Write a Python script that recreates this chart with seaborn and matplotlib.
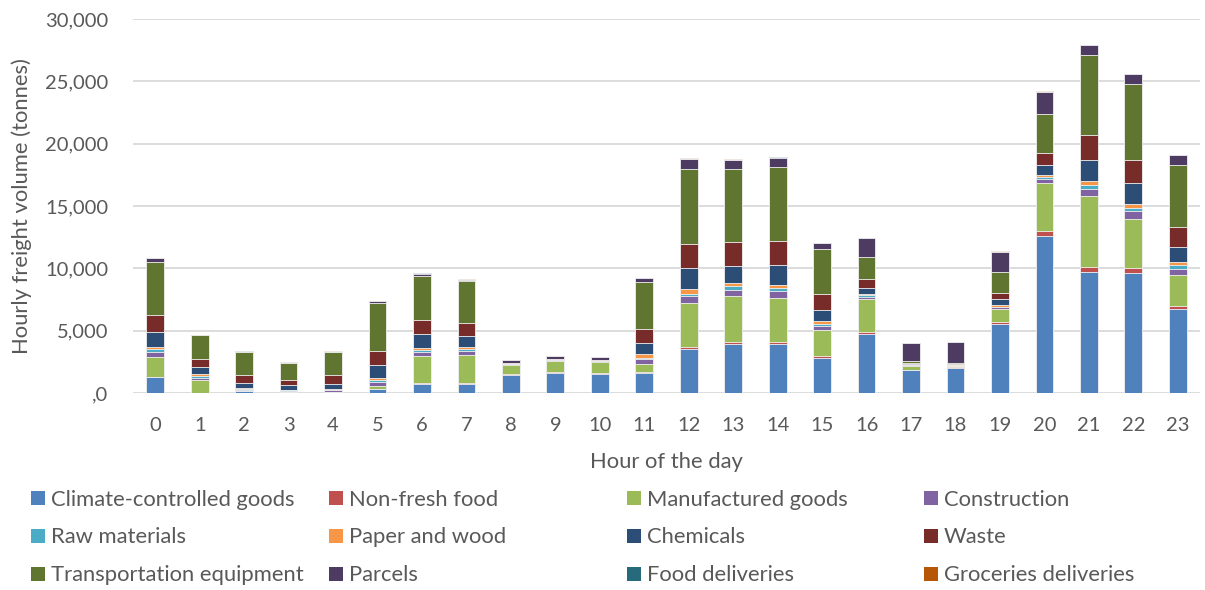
import numpy as np
import pandas as pd
import matplotlib
matplotlib.use("Agg")
import matplotlib.pyplot as plt
from matplotlib.patches import Patch
import seaborn as sns

hours = list(range(24))
categories = ["Climate-controlled goods", "Non-fresh food", "Manufactured goods", "Construction",
              "Raw materials", "Paper and wood", "Chemicals", "Waste",
              "Transportation equipment", "Parcels", "Food deliveries", "Groceries deliveries"]

climate      = [1290, 20, 150, 80, 80, 320, 750, 750, 1420, 1580, 1530, 1610, 3540, 3910, 3970, 2820, 4720, 1830, 1990, 5560, 12560, 9690, 9610, 6710]
non_fresh    = [30, 10, 10, 10, 10, 10, 30, 30, 80, 80, 60, 40, 130, 160, 160, 110, 140, 50, 80, 160, 430, 380, 430, 240]
manufactured = [1580, 1050, 30, 20, 30, 235, 2210, 2250, 780, 940, 930, 710, 3510, 3700, 3480, 2140, 2660, 320, 60, 990, 3840, 5770, 3920, 2500]
construction = [350, 130, 60, 60, 100, 350, 290, 320, 20, 20, 20, 350, 590, 530, 540, 270, 210, 40, 30, 160, 320, 530, 640, 530]
raw          = [270, 140, 50, 60, 40, 135, 140, 140, 10, 10, 10, 130, 190, 280, 270, 220, 110, 20, 20, 60, 160, 350, 240, 250]
paper        = [190, 150, 70, 50, 50, 190, 210, 210, 20, 20, 20, 300, 400, 240, 240, 180, 80, 20, 40, 100, 140, 270, 330, 240]
chemicals    = [1160, 570, 460, 370, 430, 990, 1100, 860, 30, 30, 30, 910, 1660, 1360, 1600, 920, 530, 60, 40, 490, 800, 1660, 1690, 1230]
waste        = [1370, 620, 600, 380, 680, 1160, 1130, 1040, 30, 30, 30, 1120, 1930, 1930, 1930, 1290, 700, 60, 40, 480, 1020, 2070, 1820, 1640]
transport    = [4300, 1940, 1850, 1360, 1850, 3820, 3550, 3350, 40, 40, 40, 3730, 6030, 5820, 5950, 3590, 1770, 130, 120, 1720, 3090, 6390, 6120, 4960]
parcels      = [270, 30, 40, 40, 40, 130, 170, 140, 200, 180, 180, 290, 810, 750, 750, 480, 1510, 1480, 1660, 1610, 1770, 780, 750, 760]
food         = [10] * 24
groceries    = [30, 10, 10, 10, 10, 20, 20, 20, 20, 20, 20, 30, 50, 40, 40, 30, 30, 20, 20, 30, 50, 40, 40, 40]

series = [climate, non_fresh, manufactured, construction, raw, paper, chemicals, waste,
          transport, parcels, food, groceries]

colors = ["#4F81BD", "#C0504D", "#9BBB59", "#8064A2", "#4BACC6", "#F79646",
          "#2C4D75", "#772C2A", "#5F7530", "#4D3B62", "#276A7C", "#B65708"]

ytick_vals = [0, 5000, 10000, 15000, 20000, 25000, 30000]
ytick_labels = [",0", "5,000", "10,000", "15,000", "20,000", "25,000", "30,000"]

sns.set_theme(style="white")
plt.rcParams["font.family"] = ["Lato", "DejaVu Sans"]
TXT = "#595959"
FS_TICK = 14.5
FS = 15.8

W, H = 1205, 590
fig = plt.figure(figsize=(W / 100, H / 100), dpi=100)
ax = fig.add_axes([133 / W, 1 - 393 / H, 1067 / W, 374 / H])

rows = []
for cat, vals in zip(categories, series):
    for h, v in zip(hours, vals):
        rows.append({"hour": h, "category": cat, "value": v})
df = pd.DataFrame(rows)
df["cum"] = df.groupby("hour")["value"].cumsum()

# draw cumulative bars from the top series down so stacks appear
for cat, col in reversed(list(zip(categories, colors))):
    sub = df[df["category"] == cat]
    sns.barplot(data=sub, x="hour", y="cum", color=col, width=0.4, ax=ax,
                edgecolor="#F2F2F2", linewidth=0.6, saturation=1, errorbar=None, zorder=3)

ax.set_xlim(-0.5, 23.5)
ax.set_ylim(0, 30000)
ax.set_yticks(ytick_vals)
ax.set_yticklabels(ytick_labels)
ax.yaxis.grid(True, color="#D9D9D9", linewidth=1.3, zorder=0)
ax.set_axisbelow(True)
for s in ax.spines.values():
    s.set_visible(False)
ax.tick_params(axis="both", length=0, labelsize=FS_TICK, colors=TXT)
ax.tick_params(axis="x", pad=17.5)
ax.tick_params(axis="y", pad=18)

ax.set_xlabel("Hour of the day", fontsize=FS, color=TXT)
ax.xaxis.set_label_coords(0.5, (393 - 462) / 374)
ax.xaxis.label.set_va("center")
ax.set_ylabel("Hourly freight volume (tonnes)", fontsize=FS, color=TXT)
ax.yaxis.set_label_coords((22 - 133) / 1067, 0.5)
ax.yaxis.label.set_va("center")

handles = [Patch(facecolor=c, edgecolor="none") for c in colors]
col_x = [31, 329, 627, 924]
for ci, x in enumerate(col_x):
    idx = [ci, ci + 4, ci + 8]
    fig.legend([handles[i] for i in idx], [categories[i] for i in idx],
               loc="upper left", bbox_to_anchor=(x / W, 1 - 489.5 / H),
               frameon=False, fontsize=FS, labelcolor=TXT, ncol=1,
               handlelength=0.64, handleheight=0.64, handletextpad=0.27,
               labelspacing=0.82, borderpad=0, borderaxespad=0)

fig.savefig("out.png", dpi=100)
